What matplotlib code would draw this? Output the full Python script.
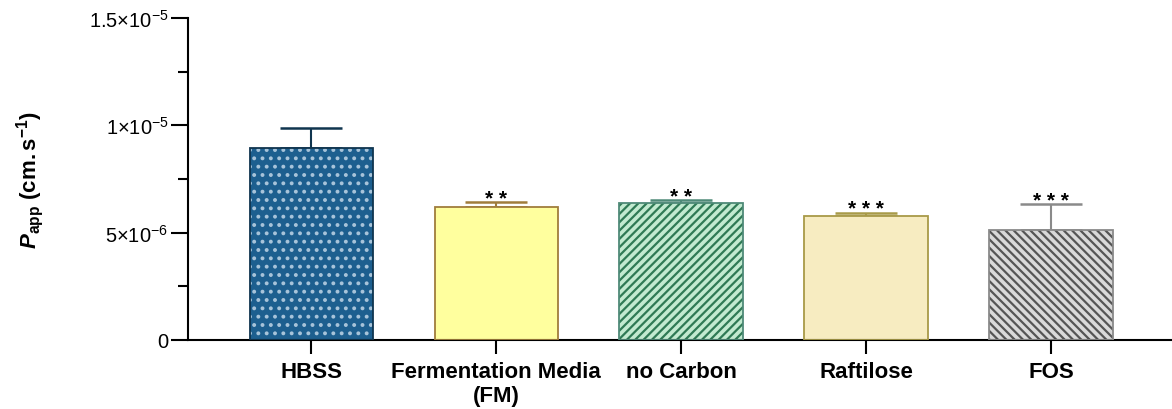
import matplotlib
matplotlib.use("Agg")
import matplotlib.pyplot as plt
import numpy as np
from matplotlib.ticker import FixedLocator, MultipleLocator

plt.rcParams["font.family"] = ["Liberation Sans", "DejaVu Sans"]
plt.rcParams["mathtext.fontset"] = "custom"
plt.rcParams["mathtext.rm"] = "Liberation Sans"
plt.rcParams["mathtext.it"] = "Liberation Sans:italic"
plt.rcParams["mathtext.bf"] = "Liberation Sans:bold"
plt.rcParams["mathtext.bfit"] = "Liberation Sans:bold:italic"
plt.rcParams["hatch.linewidth"] = 1.6

# data
categories = ["HBSS", "Fermentation Media\n(FM)", "no Carbon", "Raftilose", "FOS"]
means = [8.94e-6, 6.19e-6, 6.38e-6, 5.78e-6, 5.12e-6]
errors = [0.93e-6, 0.24e-6, 0.14e-6, 0.14e-6, 1.21e-6]
stars = ["", "* *", "* *", "* * *", "* * *"]

# styles
fills = ["#1d5f8f", "#ffff9e", "#c2ead0", "#f7ecc1", "#d9d9d9"]
hatch_colors = ["#a8c4da", "#ffff9e", "#2f7a55", "#f7ecc1", "#555555"]
hatches = ["..", "", "////", "", "\\\\\\\\"]
edges = ["#10354f", "#a07d3c", "#4f8a78", "#a89a48", "#8a8a8a"]

fig = plt.figure(figsize=(11.72, 4.10), dpi=100)
ax = fig.add_axes([0.1604, 0.1683, 0.8396, 0.7854])

x = np.arange(len(categories))
w = 0.665
for i in range(len(categories)):
    ax.bar(x[i], means[i], w, color=fills[i], edgecolor=hatch_colors[i],
           hatch=hatches[i], linewidth=0, zorder=2)
    ax.bar(x[i], means[i], w, fill=False, edgecolor=edges[i], linewidth=1.3, zorder=3)
    ax.errorbar(x[i], means[i], yerr=[[0], [errors[i]]], fmt="none",
                ecolor=edges[i], elinewidth=1.5, capsize=22, capthick=1.8, zorder=1)
    if stars[i]:
        ax.annotate(stars[i], (x[i], means[i] + errors[i]), xytext=(0, -4),
                    textcoords="offset points", ha="center", va="bottom",
                    fontsize=15, fontweight="bold")

ax.set_xlim(-0.665, 4.654)
ax.set_ylim(0, 1.5e-5)
ax.yaxis.set_major_locator(FixedLocator([0, 5e-6, 1e-5, 1.5e-5]))
ax.yaxis.set_minor_locator(MultipleLocator(2.5e-6))
ax.set_yticklabels(["0", r"$5{\times}10^{-6}$", r"$1{\times}10^{-5}$", r"$1.5{\times}10^{-5}$"],
                   fontsize=14.5)
ax.set_xticks(x)
ax.set_xticklabels(categories, fontsize=16, fontweight="bold")
ax.tick_params(axis="y", which="major", length=12, width=1.5, pad=2)
ax.tick_params(axis="y", which="minor", length=7, width=1.5)
ax.tick_params(axis="x", length=10, width=1.5, pad=5)

for s in ["top", "right"]:
    ax.spines[s].set_visible(False)
ax.spines["left"].set_linewidth(1.5)
ax.spines["bottom"].set_linewidth(1.5)

ax.set_ylabel(r"$\mathbfit{P}_{\mathbf{app}}\ \mathbf{(cm.s^{-1})}$", fontsize=16, labelpad=31)

fig.savefig("out.png", dpi=100)
